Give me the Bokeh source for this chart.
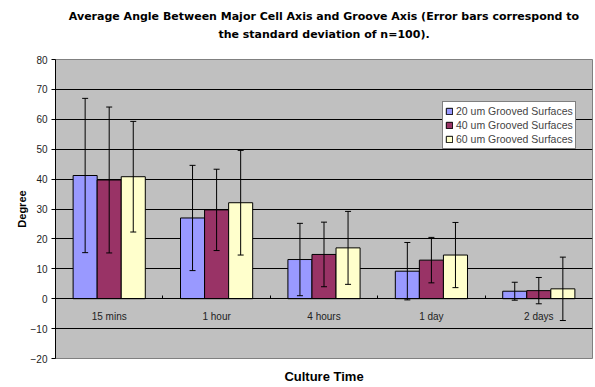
from bokeh.plotting import figure
from bokeh.models import (FactorRange, Range1d, ColumnDataSource, Whisker, TeeHead,
                          Legend, LegendItem, SingleIntervalTicker, FixedTicker, LinearAxis)
from bokeh.transform import dodge
from bokeh.embed import file_html
from bokeh.resources import INLINE

# ---- data ----
categories = ["15 mins", "1 hour", "4 hours", "1 day", "2 days"]
series_names = ["20 um Grooved Surfaces", "40 um Grooved Surfaces", "60 um Grooved Surfaces"]
mean_20 = [41.2, 27.0, 13.1, 9.2, 2.5]
sd_20 = [25.8, 17.6, 12.1, 9.6, 3.0]
mean_40 = [39.7, 29.7, 14.8, 12.9, 2.7]
sd_40 = [24.4, 13.6, 10.8, 7.6, 4.4]
mean_60 = [40.8, 32.1, 17.0, 14.6, 3.3]
sd_60 = [18.5, 17.5, 12.2, 10.9, 10.6]

title_line1 = "Average Angle Between Major Cell Axis and Groove Axis (Error bars correspond to"
title_line2 = "the standard deviation of n=100)."
x_title = "Culture Time"
y_title = "Degree"

colors = ["#9999FF", "#993366", "#FFFFCC"]
FONT = "Liberation Sans"
TFONT = "DejaVu Sans"

data = dict(cat=categories)
for key, m, s in (("20", mean_20, sd_20), ("40", mean_40, sd_40), ("60", mean_60, sd_60)):
    data["m" + key] = m
    data["u" + key] = [a + b for a, b in zip(m, s)]
    data["l" + key] = [a - b for a, b in zip(m, s)]
src = ColumnDataSource(data)

p = figure(x_range=FactorRange(*categories), y_range=Range1d(-20, 80),
           width=594, height=386, output_backend="svg", toolbar_location=None,
           min_border_left=55, min_border_right=2, min_border_top=59, min_border_bottom=27,
           background_fill_color="#C0C0C0", border_fill_color="white",
           outline_line_color="#808080")

bw = 0.224
offsets = [-bw, 0.0, bw]
renderers = []
for key, off, col in zip(("20", "40", "60"), offsets, colors):
    r = p.vbar(x=dodge("cat", off, range=p.x_range), top="m" + key, width=bw, bottom=0,
               source=src, fill_color=col, line_color="black", line_width=1)
    renderers.append(r)
    w = Whisker(base=dodge("cat", off, range=p.x_range), upper="u" + key, lower="l" + key,
                source=src, line_color="black", line_width=1, level="overlay",
                upper_head=TeeHead(size=6, line_color="black", line_width=1),
                lower_head=TeeHead(size=6, line_color="black", line_width=1))
    p.add_layout(w)

# grid
p.xgrid.grid_line_color = None
p.ygrid.grid_line_color = "black"
p.ygrid.grid_line_width = 1

# y axis
p.yaxis.ticker = SingleIntervalTicker(interval=10, num_minor_ticks=0)
p.yaxis.axis_line_color = "black"
p.yaxis.major_tick_line_color = "black"
p.yaxis.major_tick_out = 4
p.yaxis.major_tick_in = 0
p.yaxis.minor_tick_line_color = None
p.yaxis.major_label_standoff = 4
p.yaxis.major_label_text_font = FONT
p.yaxis.major_label_text_font_size = "10px"
p.yaxis.major_label_text_color = "#222222"
p.yaxis.axis_label = y_title
p.yaxis.axis_label_text_font = FONT
p.yaxis.axis_label_text_font_size = "11px"
p.yaxis.axis_label_text_font_style = "bold"
p.yaxis.axis_label_text_color = "black"
p.yaxis.axis_label_standoff = 0

# x axis at zero
p.xaxis.fixed_location = 0
p.xaxis.axis_line_color = "black"
p.xaxis.major_tick_line_color = None
p.xaxis.major_label_standoff = 6
p.xaxis.major_label_text_font = FONT
p.xaxis.major_label_text_font_size = "10px"
p.xaxis.major_label_text_color = "#222222"

# small boundary ticks between categories
bt = LinearAxis(ticker=FixedTicker(ticks=[1, 2, 3, 4]), fixed_location=0,
                major_tick_in=3, major_tick_out=0, major_tick_line_color="black",
                minor_tick_line_color=None, axis_line_color=None,
                major_label_text_alpha=0, major_label_text_font_size="1px")
p.add_layout(bt, "below")


def label_axis(text, standoff, font, size):
    """An axis without ticks, used only to carry a text label outside the frame."""
    return LinearAxis(ticker=FixedTicker(ticks=[]), axis_line_color=None,
                      major_tick_line_color=None, minor_tick_line_color=None,
                      major_tick_out=0, major_tick_in=0, minor_tick_out=0,
                      major_label_standoff=0, major_label_text_font_size="1px",
                      axis_label=text, axis_label_standoff=standoff,
                      axis_label_text_font=font, axis_label_text_font_size=size,
                      axis_label_text_font_style="bold", axis_label_text_color="black")


# x-axis title
p.add_layout(label_axis(x_title, 10, FONT, "13px"), "below")
# two-line chart title (inner line first)
p.add_layout(label_axis(title_line2, 19, TFONT, "11px"), "above")
p.add_layout(label_axis(title_line1, 2, TFONT, "11px"), "above")

# legend
items = [LegendItem(label=n, renderers=[r]) for n, r in zip(series_names, renderers)]
legend = Legend(items=items, location=(387, 209), margin=0, padding=2, spacing=0,
                label_height=14, glyph_width=8, glyph_height=8, label_standoff=3,
                label_text_font=FONT, label_text_font_size="10.5px",
                border_line_color="black", border_line_width=1,
                background_fill_color="white", background_fill_alpha=1.0)
p.add_layout(legend)

open("out.html", "w").write(file_html(p, INLINE))
